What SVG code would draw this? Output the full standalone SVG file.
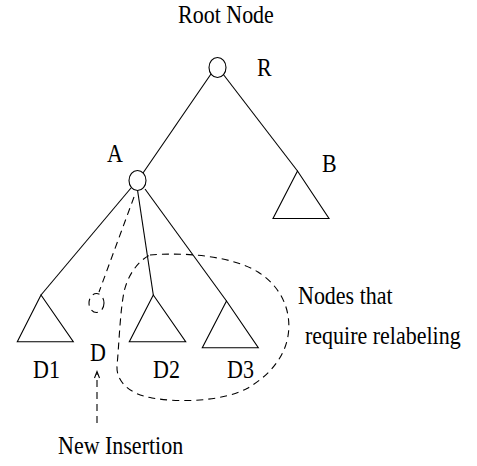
<svg xmlns="http://www.w3.org/2000/svg" width="477" height="466" viewBox="0 0 477 466">
  <style>
    .edge { fill: none; stroke: #000; stroke-width: 1.1; }
    .dash { fill: none; stroke: #000; stroke-width: 1.1; stroke-dasharray: 7 5; }
    .node { fill: #fff; stroke: #000; stroke-width: 1.1; }
    .lbl { font-family: "Liberation Serif", "Times New Roman", serif; font-size: 22px; fill: #000; }
  </style>
  <rect width="477" height="466" fill="#fff"/>

  <!-- tree edges -->
  <g id="connectors">
    <line class="edge" x1="211" y1="74" x2="143" y2="173"/>
    <line class="edge" x1="223" y1="74" x2="297.5" y2="171"/>
    <line class="edge" x1="131" y1="188" x2="41" y2="295"/>
    <line class="edge" x1="137.5" y1="190" x2="153.3" y2="295"/>
    <line class="edge" x1="145" y1="189" x2="226.5" y2="301"/>
    <!-- pending link to the inserted node -->
    <line class="dash" x1="134" y1="197" x2="99" y2="292"/>
    <!-- arrow pointing at the new insertion -->
    <line class="dash" x1="97" y1="423" x2="97" y2="373"/>
    <polyline class="edge" points="94.5,378 97,371.5 99.5,378"/>
  </g>

  <!-- root -->
  <g id="root">
    <ellipse class="node" cx="217.5" cy="67.5" rx="8.5" ry="10"/>
    <text class="lbl" transform="translate(178 23) scale(1 1.1)">Root Node</text>
    <text class="lbl" transform="translate(257 76) scale(1 1.1)">R</text>
  </g>

  <!-- node A -->
  <g id="nodeA">
    <ellipse class="node" cx="137.5" cy="180.5" rx="8.5" ry="10"/>
    <text class="lbl" transform="translate(107 162) scale(1 1.1)">A</text>
  </g>

  <!-- subtree B -->
  <g id="nodeB">
    <polygon class="edge" points="297.5,171 273,218.5 329,218.5"/>
    <text class="lbl" transform="translate(322 172) scale(1 1.1)">B</text>
  </g>

  <!-- subtree D1 -->
  <g id="nodeD1">
    <polygon class="edge" points="41,295 17.3,341.7 73.3,341.7"/>
    <text class="lbl" transform="translate(33 378) scale(1 1.1)">D1</text>
  </g>

  <!-- newly inserted node D -->
  <g id="nodeD">
    <ellipse class="dash" cx="96.5" cy="303" rx="7.5" ry="9.5" stroke-dasharray="5 4"/>
    <text class="lbl" transform="translate(90 361) scale(1 1.1)">D</text>
  </g>

  <!-- subtree D2 -->
  <g id="nodeD2">
    <polygon class="edge" points="153.3,295 129.3,341.7 185.7,341.7"/>
    <text class="lbl" transform="translate(153 378) scale(1 1.1)">D2</text>
  </g>

  <!-- subtree D3 -->
  <g id="nodeD3">
    <polygon class="edge" points="226.5,301 202.3,347.7 258.3,347.7"/>
    <text class="lbl" transform="translate(227 378) scale(1 1.1)">D3</text>
  </g>

  <!-- region of nodes to relabel -->
  <g id="relabel-region">
    <path class="dash" d="M 150,255 C 185,252 232,256 258,272 C 282,287 292,312 288,336 C 284,360 266,378 246,389 C 222,401 182,403 152,398 C 128,394 116,380 117,366 C 119,345 120,312 124,292 C 127,278 136,262 150,255 Z"/>
    <text class="lbl" transform="translate(298 304) scale(1 1.1)">Nodes that</text>
    <text class="lbl" transform="translate(305 344) scale(1 1.1)">require relabeling</text>
  </g>

  <!-- caption for the insertion -->
  <g id="new-insertion">
    <text class="lbl" transform="translate(58 454) scale(1 1.1)">New Insertion</text>
  </g>
</svg>
